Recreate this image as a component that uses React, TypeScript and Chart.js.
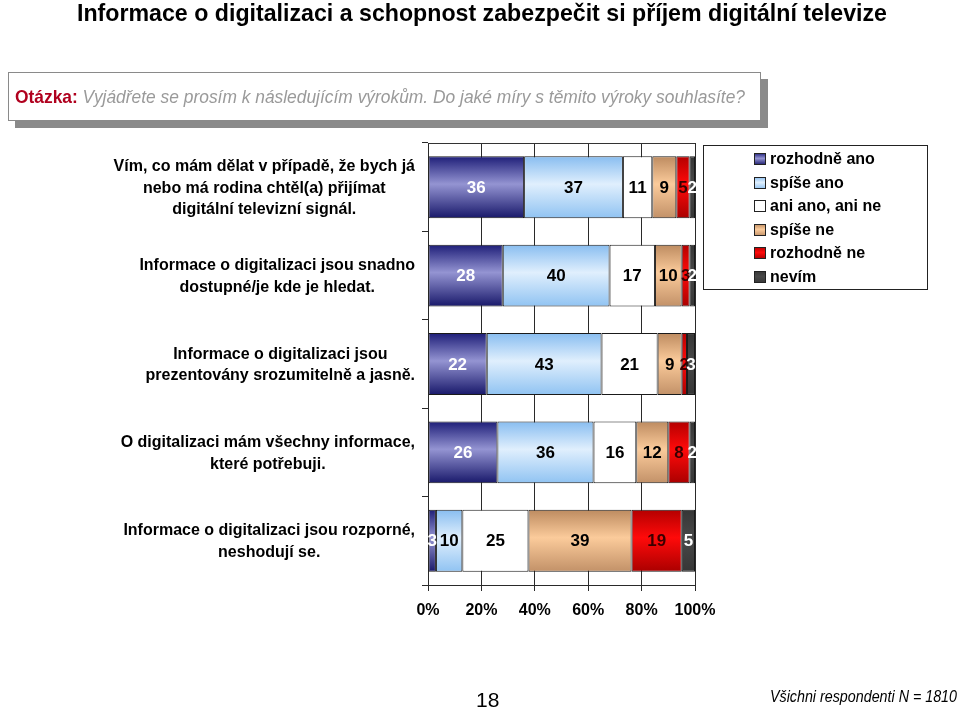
import React, { useEffect, useLayoutEffect, useRef } from 'react';
import { Chart, registerables } from 'chart.js';

Chart.register(...registerables);

// ---------------- DATA ----------------
const categories: string[][] = [
  ['Vím, co mám dělat v případě, že bych já', 'nebo má rodina chtěl(a) přijímat', 'digitální televizní signál.'],
  ['Informace o digitalizaci jsou snadno', 'dostupné/je kde je hledat.'],
  ['Informace o digitalizaci jsou', 'prezentovány srozumitelně a jasně.'],
  ['O digitalizaci mám všechny informace,', 'které potřebuji.'],
  ['Informace o digitalizaci jsou rozporné,', 'neshodují se.'],
];
const seriesNames = ['rozhodně ano', 'spíše ano', 'ani ano, ani ne', 'spíše ne', 'rozhodně ne', 'nevím'];
const rozhodneAno = [36, 28, 22, 26, 3];
const spiseAno = [37, 40, 43, 36, 10];
const aniAnoAniNe = [11, 17, 21, 16, 25];
const spiseNe = [9, 10, 9, 12, 39];
const rozhodneNe = [5, 3, 2, 8, 19];
const nevim = [2, 2, 3, 2, 5];
const xTicks = [0, 20, 40, 60, 80, 100];
const xTickLabels = ['0%', '20%', '40%', '60%', '80%', '100%'];

const seriesValues = [rozhodneAno, spiseAno, aniAnoAniNe, spiseNe, rozhodneNe, nevim];

// ---------------- STYLE ----------------
const FONT = '"Liberation Sans", Arial, Helvetica, sans-serif';
const gradStops: string[][] = [
  ['#1e1e78', '#9494d2', '#18186a'],
  ['#88bdf0', '#e0effd', '#90c3f2'],
  ['#ffffff', '#ffffff', '#ffffff'],
  ['#bd8b60', '#fbcb9b', '#c29168'],
  ['#b40000', '#ff0a0a', '#aa0000'],
  ['#363636', '#484848', '#363636'],
];
const labelColors = ['#ffffff', '#000000', '#000000', '#000000', '#3a0000', '#ffffff'];
const BAR_PCT = 0.7;

function makeGradient(ctx: CanvasRenderingContext2D, y0: number, y1: number, stops: string[]) {
  const g = ctx.createLinearGradient(0, y0, 0, y1);
  g.addColorStop(0, stops[0]);
  g.addColorStop(0.45, stops[1]);
  g.addColorStop(1, stops[2]);
  return g;
}

const valueLabelsPlugin = {
  id: 'valueLabels',
  afterDatasetsDraw(chart: any) {
    const ctx = chart.ctx as CanvasRenderingContext2D;
    ctx.save();
    ctx.font = `bold 17px ${FONT}`;
    ctx.textAlign = 'center';
    ctx.textBaseline = 'middle';
    chart.data.datasets.forEach((_ds: any, i: number) => {
      const meta = chart.getDatasetMeta(i);
      meta.data.forEach((el: any, j: number) => {
        const p = el.getProps(['x', 'base', 'y'], true);
        ctx.fillStyle = labelColors[i];
        ctx.fillText(String(seriesValues[i][j]), (p.x + p.base) / 2, p.y + 1);
      });
    });
    ctx.restore();
  },
};

const frameAndLabelsPlugin = {
  id: 'frameAndLabels',
  afterDraw(chart: any) {
    const ctx = chart.ctx as CanvasRenderingContext2D;
    const area = chart.chartArea;
    const yScale = chart.scales.y;
    ctx.save();
    // top frame line
    ctx.strokeStyle = '#333';
    ctx.lineWidth = 1;
    ctx.beginPath();
    ctx.moveTo(area.left, Math.round(area.top) + 0.5);
    ctx.lineTo(area.right, Math.round(area.top) + 0.5);
    ctx.stroke();

    // category labels (each centred on its own widest line)
    ctx.font = `bold 16px ${FONT}`;
    ctx.fillStyle = '#000';
    ctx.textAlign = 'center';
    ctx.textBaseline = 'middle';
    const lh = 21.5;
    categories.forEach((lines, i) => {
      const cy = yScale.getPixelForValue(i);
      const maxW = Math.max(...lines.map((l) => ctx.measureText(l).width));
      const cx = area.left - 13 - maxW / 2;
      lines.forEach((l, k) => {
        ctx.fillText(l, cx, cy + (k - (lines.length - 1) / 2) * lh + 1);
      });
    });

    // legend
    const lx = Math.round(area.right) + 8;
    const ly = Math.round(area.top) + 2;
    const lw = 224;
    const lhgt = 144;
    ctx.strokeStyle = '#222';
    ctx.strokeRect(lx + 0.5, ly + 0.5, lw, lhgt);
    ctx.textAlign = 'left';
    seriesNames.forEach((name, i) => {
      const cy = ly + 14 + i * 23.5;
      const sx = lx + 51;
      const sy = Math.round(cy - 6);
      ctx.fillStyle = makeGradient(ctx, sy, sy + 12, gradStops[i]);
      ctx.fillRect(sx, sy, 12, 12);
      ctx.strokeStyle = '#222';
      ctx.strokeRect(sx + 0.5, sy + 0.5, 11, 11);
      ctx.fillStyle = '#000';
      ctx.fillText(name, lx + 67, cy + 1);
    });
    ctx.restore();
  },
};

function FitText({ width, style, children }: { width: number; style?: React.CSSProperties; children: React.ReactNode }) {
  const ref = useRef<HTMLSpanElement>(null);
  useLayoutEffect(() => {
    const el = ref.current;
    if (!el) return;
    el.style.transform = 'none';
    const w = el.getBoundingClientRect().width;
    if (w > 0) el.style.transform = `scaleX(${width / w})`;
  }, [width]);
  return (
    <span
      ref={ref}
      style={{ display: 'inline-block', whiteSpace: 'nowrap', transformOrigin: 'left center', ...style }}
    >
      {children}
    </span>
  );
}

export default function App() {
  const canvasRef = useRef<HTMLCanvasElement>(null);

  useEffect(() => {
    const canvas = canvasRef.current;
    if (!canvas) return;
    const totals = categories.map((_, j) => seriesValues.reduce((s, arr) => s + arr[j], 0));

    const datasets = seriesValues.map((vals, i) => ({
      label: seriesNames[i],
      data: vals.map((v, j) => (v / totals[j]) * 100),
      backgroundColor: (c: any) => {
        const chart = c.chart;
        const ys = chart.scales?.y;
        if (!ys || !chart.chartArea || c.dataIndex == null) return gradStops[i][1];
        const band = (ys.bottom - ys.top) / categories.length;
        const cy = ys.getPixelForValue(c.dataIndex);
        const h = band * BAR_PCT;
        return makeGradient(chart.ctx, cy - h / 2, cy + h / 2, gradStops[i]);
      },
      borderColor: '#1a1a1a',
      borderWidth: 1,
      borderSkipped: false,
      categoryPercentage: 1,
      barPercentage: BAR_PCT,
    }));

    const chart = new Chart(canvas, {
      type: 'bar',
      data: {
        labels: categories.map((c) => c.join(' ')),
        datasets: datasets as any,
      },
      options: {
        indexAxis: 'y',
        responsive: false,
        animation: false,
        devicePixelRatio: 1,
        layout: { padding: { top: 143, right: 265, left: 0, bottom: 0 } },
        plugins: {
          legend: { display: false },
          tooltip: { enabled: false },
        },
        scales: {
          x: {
            stacked: true,
            min: 0,
            max: 100,
            afterBuildTicks: (s: any) => {
              s.ticks = xTicks.map((v) => ({ value: v }));
            },
            ticks: {
              callback: (v: any) => xTickLabels[xTicks.indexOf(Number(v))] ?? '',
              font: { size: 16, weight: 'bold', family: FONT },
              color: '#000',
              padding: 10,
              maxRotation: 0,
              autoSkip: false,
            },
            grid: {
              color: '#2a2a2a',
              lineWidth: 1,
              drawOnChartArea: true,
              drawTicks: true,
              tickLength: 6,
              tickColor: '#2a2a2a',
            },
            border: { display: true, color: '#2a2a2a', width: 1 },
            afterFit: (s: any) => {
              s.height = 125;
            },
          },
          y: {
            stacked: true,
            offset: true,
            ticks: { display: false },
            grid: {
              offset: true,
              drawOnChartArea: false,
              drawTicks: true,
              tickLength: 6,
              color: '#2a2a2a',
              tickColor: '#2a2a2a',
            },
            border: { display: true, color: '#2a2a2a', width: 1 },
            afterFit: (s: any) => {
              s.width = 428;
            },
          },
        },
      } as any,
      plugins: [valueLabelsPlugin, frameAndLabelsPlugin],
    });
    return () => chart.destroy();
  }, []);

  return (
    <div style={{ position: 'fixed', left: 0, top: 0, width: 960, height: 710, background: '#fff', overflow: 'hidden' }}>
      <canvas ref={canvasRef} width={960} height={710} style={{ position: 'absolute', left: 0, top: 0, display: 'block' }} />
      <div style={{ position: 'absolute', left: 77, top: -1, lineHeight: '28px', fontFamily: FONT, fontWeight: 'bold', fontSize: 24, color: '#000' }}>
        <FitText width={810}>Informace o digitalizaci a schopnost zabezpečit si příjem digitální televize</FitText>
      </div>
      <div
        style={{
          position: 'absolute',
          left: 8,
          top: 72,
          width: 751,
          height: 47,
          background: '#fff',
          border: '1px solid #8a8a8a',
          boxShadow: '7px 7px 0 #8a8a8a',
        }}
      />
      <div style={{ position: 'absolute', left: 15, top: 84, lineHeight: '26px', fontFamily: FONT, fontSize: 19 }}>
        <FitText width={730}>
          <span style={{ color: '#b0001e', fontWeight: 'bold' }}>Otázka:</span>
          <span style={{ color: '#9a9a9a', fontStyle: 'italic' }}> Vyjádřete se prosím k následujícím výrokům. Do jaké míry s těmito výroky souhlasíte?</span>
        </FitText>
      </div>
      <div style={{ position: 'absolute', left: 476, top: 688, lineHeight: '24px', fontFamily: FONT, fontSize: 21, color: '#000' }}>18</div>
      <div style={{ position: 'absolute', left: 770, top: 686, lineHeight: '22px', fontFamily: FONT, fontSize: 16, fontStyle: 'italic', color: '#000' }}>
        <FitText width={187}>Všichni respondenti N = 1810</FitText>
      </div>
    </div>
  );
}
